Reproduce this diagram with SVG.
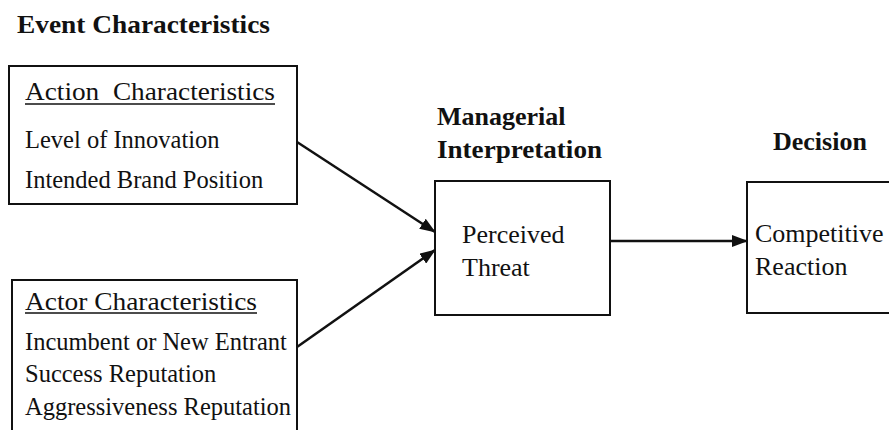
<svg xmlns="http://www.w3.org/2000/svg" width="889" height="430" viewBox="0 0 889 430">
<style>
.box{fill:none;stroke:#111;stroke-width:2}
.h{font-family:"Liberation Serif",serif;font-weight:bold;font-size:26px;fill:#111}
.t{font-family:"Liberation Serif",serif;font-size:24.5px;fill:#111}
.t2{font-family:"Liberation Serif",serif;font-size:26px;fill:#111}
.u{stroke:#111;stroke-width:1.5}
.c{stroke:#111;stroke-width:2.5;fill:none}
</style>
<defs>
<marker id="ah" markerUnits="userSpaceOnUse" markerWidth="16" markerHeight="12" refX="15" refY="6" orient="auto">
<path d="M0,0 L16,6 L0,12 Z" fill="#111"/>
</marker>
</defs>
<rect width="889" height="430" fill="#fff"/>
<text class="h" x="17" y="33" textLength="253" lengthAdjust="spacingAndGlyphs">Event Characteristics</text>
<g id="action">
<rect class="box" x="9" y="66" width="288" height="138"/>
<text class="t" x="25" y="100" xml:space="preserve" textLength="250" lengthAdjust="spacingAndGlyphs">Action  Characteristics</text>
<line class="u" x1="25" y1="104" x2="275" y2="104"/>
<text class="t" x="25" y="148">Level of Innovation</text>
<text class="t" x="25" y="188">Intended Brand Position</text>
</g>
<g id="actor">
<rect class="box" x="12" y="280" width="285" height="170"/>
<text class="t" x="25" y="310" textLength="232" lengthAdjust="spacingAndGlyphs">Actor Characteristics</text>
<line class="u" x1="25" y1="313" x2="257" y2="313"/>
<text class="t" x="25" y="350">Incumbent or New Entrant</text>
<text class="t" x="25" y="382">Success Reputation</text>
<text class="t" x="25" y="415">Aggressiveness Reputation</text>
</g>
<g id="threat">
<text class="h" x="437" y="125">Managerial</text>
<text class="h" x="437" y="158" textLength="165" lengthAdjust="spacingAndGlyphs">Interpretation</text>
<rect class="box" x="435" y="181" width="175" height="134"/>
<text class="t2" x="462" y="243">Perceived</text>
<text class="t2" x="462" y="276">Threat</text>
</g>
<g id="decision">
<text class="h" x="773" y="150">Decision</text>
<rect class="box" x="747" y="182" width="160" height="131"/>
<text class="t2" x="755" y="242">Competitive</text>
<text class="t2" x="755" y="275">Reaction</text>
</g>
<g id="connectors">
<line class="c" x1="297" y1="142" x2="435" y2="232" marker-end="url(#ah)"/>
<line class="c" x1="297" y1="347" x2="435" y2="250" marker-end="url(#ah)"/>
<line class="c" x1="610" y1="241" x2="747" y2="241" marker-end="url(#ah)"/>
</g>
</svg>
